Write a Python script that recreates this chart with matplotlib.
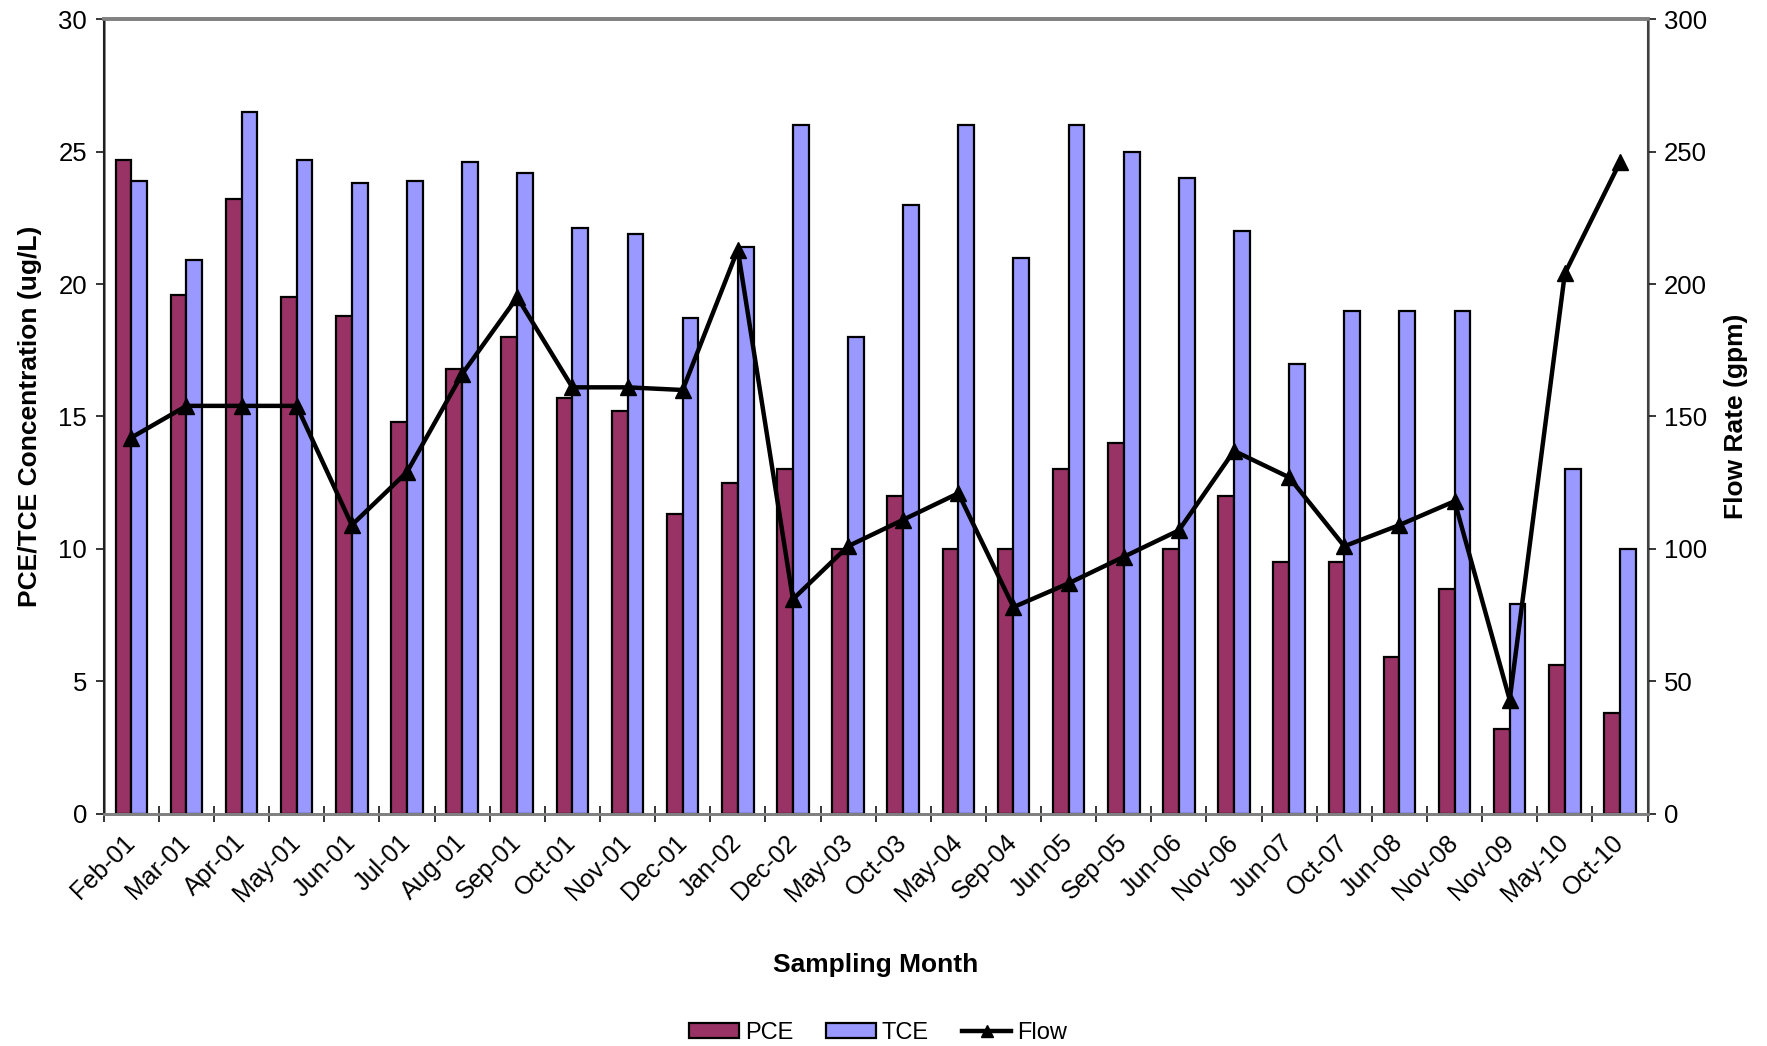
import matplotlib
matplotlib.use("Agg")
import matplotlib.pyplot as plt
import numpy as np
from matplotlib.lines import Line2D
from matplotlib.patches import Patch

plt.rcParams['font.family'] = ['Liberation Sans', 'DejaVu Sans']

months = ["Feb-01", "Mar-01", "Apr-01", "May-01", "Jun-01", "Jul-01", "Aug-01", "Sep-01",
          "Oct-01", "Nov-01", "Dec-01", "Jan-02", "Dec-02", "May-03", "Oct-03", "May-04",
          "Sep-04", "Jun-05", "Sep-05", "Jun-06", "Nov-06", "Jun-07", "Oct-07", "Jun-08",
          "Nov-08", "Nov-09", "May-10", "Oct-10"]
pce = [24.7, 19.6, 23.2, 19.5, 18.8, 14.8, 16.8, 18.0, 15.7, 15.2, 11.3, 12.5, 13.0, 10.0,
       12.0, 10.0, 10.0, 13.0, 14.0, 10.0, 12.0, 9.5, 9.5, 5.9, 8.5, 3.2, 5.6, 3.8]
tce = [23.9, 20.9, 26.5, 24.7, 23.8, 23.9, 24.6, 24.2, 22.1, 21.9, 18.7, 21.4, 26.0, 18.0,
       23.0, 26.0, 21.0, 26.0, 25.0, 24.0, 22.0, 17.0, 19.0, 19.0, 19.0, 7.9, 13.0, 10.0]
flow = [142, 154, 154, 154, 109, 129, 166, 195, 161, 161, 160, 213, 81, 101, 111, 121,
        78, 87, 97, 107, 137, 127, 101, 109, 118, 43, 204, 246]

pce_color = "#993366"
tce_color = "#9999FF"
grey = "#808080"

fig = plt.figure(figsize=(17.67, 10.46), dpi=100)
ax = fig.add_axes([0.0587, 0.2221, 0.8737, 0.7595])
ax2 = ax.twinx()

x = np.arange(len(months))
w = 0.286
ax.bar(x - w / 2, pce, width=w, color=pce_color, edgecolor="black", linewidth=1.6, zorder=2)
ax.bar(x + w / 2, tce, width=w, color=tce_color, edgecolor="black", linewidth=1.6, zorder=2)
ax2.plot(x, flow, color="black", linewidth=3.2, marker="^", markersize=11, zorder=3)

ax.set_xlim(-0.5, len(months) - 0.5)
ax.set_ylim(0, 30)
ax2.set_ylim(0, 300)
ax.set_yticks(np.arange(0, 31, 5))
ax2.set_yticks(np.arange(0, 301, 50))
ax.set_xticks(np.arange(-0.5, len(months), 1.0), minor=False)
ax.set_xticklabels([])
ax.set_xticks(x, minor=True)
ax.set_xticklabels(months, minor=True, rotation=45, ha="right", va="center",
                   rotation_mode="anchor", fontsize=18)
ax.tick_params(axis="x", which="minor", length=0, pad=18)
ax.tick_params(axis="x", which="major", direction="inout", length=11.5, width=1.1, color="black")
ax.tick_params(axis="y", direction="out", length=6, width=1.1, labelsize=18.5, pad=6)
ax2.tick_params(axis="y", direction="out", length=6, width=1.1, labelsize=18.5, pad=6)

for a in (ax, ax2):
    for s in a.spines.values():
        s.set_color(grey)
        s.set_linewidth(2.0)
    a.spines["top"].set_linewidth(2.6)
ax2.spines["left"].set_color("#202020")
ax2.spines["left"].set_linewidth(1.5)
ax2.spines["right"].set_color("#404040")
ax2.spines["right"].set_linewidth(1.5)

ax.set_ylabel("PCE/TCE Concentration (ug/L)", fontsize=19, fontweight="bold", labelpad=12)
ax2.set_ylabel("Flow Rate (gpm)", fontsize=19, fontweight="bold", labelpad=12)
ax.set_xlabel("Sampling Month", fontsize=19, fontweight="bold", labelpad=34)

handles = [Patch(facecolor=pce_color, edgecolor="black", linewidth=1.6),
           Patch(facecolor=tce_color, edgecolor="black", linewidth=1.6),
           Line2D([0], [0], color="black", linewidth=3.2, marker="^", markersize=9)]
fig.legend(handles, ["PCE", "TCE", "Flow"], loc="center", bbox_to_anchor=(0.497, 0.0125),
           ncol=3, frameon=False, fontsize=17, handlelength=2.1, handleheight=0.6,
           handletextpad=0.25, columnspacing=1.4)

fig.savefig("out.png", dpi=100)
